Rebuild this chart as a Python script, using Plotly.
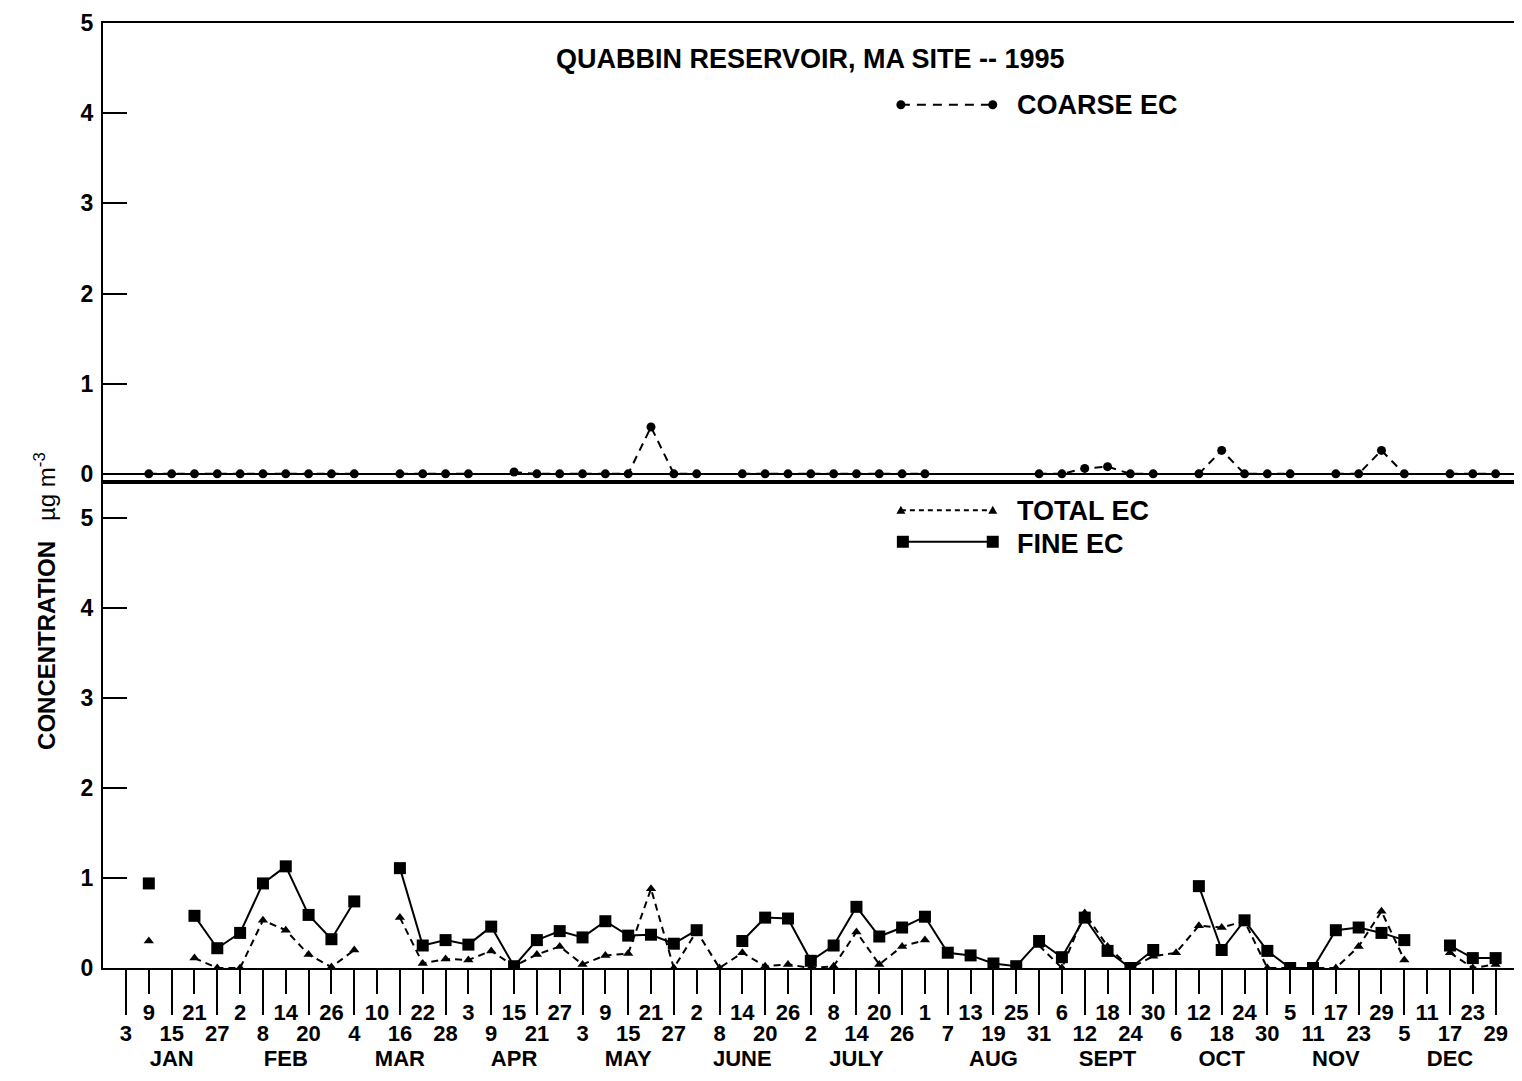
import plotly.graph_objects as go
from datetime import datetime, timedelta

# ---------------- data ----------------
sample_dates = [
    "1995-01-03", "1995-01-09", "1995-01-15", "1995-01-21", "1995-01-27",
    "1995-02-02", "1995-02-08", "1995-02-14", "1995-02-20", "1995-02-26",
    "1995-03-04", "1995-03-10", "1995-03-16", "1995-03-22", "1995-03-28",
    "1995-04-03", "1995-04-09", "1995-04-15", "1995-04-21", "1995-04-27",
    "1995-05-03", "1995-05-09", "1995-05-15", "1995-05-21", "1995-05-27",
    "1995-06-02", "1995-06-08", "1995-06-14", "1995-06-20", "1995-06-26",
    "1995-07-02", "1995-07-08", "1995-07-14", "1995-07-20", "1995-07-26",
    "1995-08-01", "1995-08-07", "1995-08-13", "1995-08-19", "1995-08-25",
    "1995-08-31", "1995-09-06", "1995-09-12", "1995-09-18", "1995-09-24",
    "1995-09-30", "1995-10-06", "1995-10-12", "1995-10-18", "1995-10-24",
    "1995-10-30", "1995-11-05", "1995-11-11", "1995-11-17", "1995-11-23",
    "1995-11-29", "1995-12-05", "1995-12-11", "1995-12-17", "1995-12-23",
    "1995-12-29",
]
day_labels = [
    "3", "9", "15", "21", "27", "2", "8", "14", "20", "26",
    "4", "10", "16", "22", "28", "3", "9", "15", "21", "27",
    "3", "9", "15", "21", "27", "2", "8", "14", "20", "26",
    "2", "8", "14", "20", "26", "1", "7", "13", "19", "25",
    "31", "6", "12", "18", "24", "30", "6", "12", "18", "24",
    "30", "5", "11", "17", "23", "29", "5", "11", "17", "23",
    "29",
]
coarse_ec = [
    None, 0, 0, 0, 0, 0, 0, 0, 0, 0,
    0, None, 0, 0, 0, 0, None, 0.02, 0, 0,
    0, 0, 0, 0.52, 0, 0, None, 0, 0, 0,
    0, 0, 0, 0, 0, 0, None, None, None, None,
    0, 0, 0.06, 0.08, 0, 0, None, 0, 0.26, 0,
    0, 0, None, 0, 0, 0.26, 0, None, 0, 0,
    0,
]
total_ec = [
    None, 0.30, None, 0.11, 0.0, 0.0, 0.53, 0.42, 0.15, 0.01,
    0.20, None, 0.56, 0.05, 0.10, 0.09, 0.19, 0.02, 0.15, 0.24,
    0.04, 0.14, 0.16, 0.88, 0.0, 0.41, 0.0, 0.17, 0.02, 0.04,
    0.0, 0.02, 0.40, 0.04, 0.24, 0.31, None, None, None, None,
    0.25, 0.0, 0.61, 0.24, 0.0, 0.13, 0.17, 0.47, 0.45, 0.52,
    0.0, 0.0, 0.0, 0.0, 0.24, 0.63, 0.09, None, 0.17, 0.0,
    0.04,
]
fine_ec = [
    None, 0.94, None, 0.58, 0.22, 0.39, 0.94, 1.13, 0.59, 0.32,
    0.74, None, 1.11, 0.25, 0.31, 0.26, 0.46, 0.02, 0.31, 0.41,
    0.34, 0.52, 0.36, 0.37, 0.27, 0.42, None, 0.30, 0.56, 0.55,
    0.08, 0.25, 0.68, 0.35, 0.45, 0.57, 0.17, 0.14, 0.05, 0.02,
    0.30, 0.12, 0.56, 0.19, 0.0, 0.20, None, 0.91, 0.20, 0.53,
    0.19, 0.0, 0.0, 0.42, 0.45, 0.39, 0.31, None, 0.25, 0.11,
    0.11,
]
month_names = ["JAN", "FEB", "MAR", "APR", "MAY", "JUNE",
               "JULY", "AUG", "SEPT", "OCT", "NOV", "DEC"]
month_label_dates = ["1995-01-15", "1995-02-14", "1995-03-16", "1995-04-15",
                     "1995-05-15", "1995-06-14", "1995-07-14", "1995-08-19",
                     "1995-09-18", "1995-10-18", "1995-11-17", "1995-12-17"]
y_ticks = [0, 1, 2, 3, 4, 5]

# ---------------- layout geometry ----------------
# page body has an 8px margin, so the figure is offset by 8px on screen
OFF = 8
W, H = 1514, 1065
PLOT_L, PLOT_R, PLOT_T, PLOT_B = 103, 1520, 18, 978   # screen pixels
ML, MT = PLOT_L - OFF, PLOT_T - OFF
MR = W - (PLOT_R - OFF)
MB = H - (PLOT_B - OFF)
PW, PH = PLOT_R - PLOT_L, PLOT_B - PLOT_T
def px_x(px):
    return (px - PLOT_L) / PW
def px_y(py):
    return (PLOT_B - py) / PH

sep = px_y(484)
t0 = datetime(1995, 1, 3)
x_lo = (t0 + timedelta(days=-6.04)).strftime("%Y-%m-%d %H:%M")
x_hi = (t0 + timedelta(days=365.88)).strftime("%Y-%m-%d %H:%M")

FONT = "Liberation Sans, Arial, Helvetica, sans-serif"
tickfont = dict(family=FONT, size=22, color="black", weight="bold")
ytickfont = dict(family=FONT, size=23, color="black", weight="bold")

odd_vals = sample_dates[1::2]
odd_text = day_labels[1::2]
even_vals = sample_dates[0::2]
even_text = day_labels[0::2]

fig = go.Figure()
fig.add_trace(go.Scatter(
    x=sample_dates, y=coarse_ec, xaxis="x2", yaxis="y2", mode="lines+markers",
    line=dict(color="black", width=2, dash="8px,6px"),
    marker=dict(symbol="circle", size=9, color="black"),
    connectgaps=False, showlegend=False, name="COARSE EC"))
fig.add_trace(go.Scatter(
    x=sample_dates, y=total_ec, xaxis="x", yaxis="y", mode="lines+markers",
    line=dict(color="black", width=2, dash="7px,5px"),
    marker=dict(symbol="triangle-up", size=9, color="black"),
    connectgaps=False, showlegend=False, name="TOTAL EC"))
fig.add_trace(go.Scatter(
    x=sample_dates, y=fine_ec, xaxis="x", yaxis="y", mode="lines+markers",
    line=dict(color="black", width=2),
    marker=dict(symbol="square", size=12, color="black"),
    connectgaps=False, showlegend=False, name="FINE EC"))
# invisible carriers so that the overlay label axes get drawn
for ax in ("x3", "x4"):
    fig.add_trace(go.Scatter(x=[sample_dates[0]], y=[None], xaxis=ax, yaxis="y",
                             mode="markers", showlegend=False, hoverinfo="skip"))

axis_common = dict(showgrid=False, zeroline=False, linecolor="black", linewidth=2,
                   tickcolor="black")

fig.update_layout(
    width=W, height=H,
    margin=dict(l=ML, r=MR, t=MT, b=MB, pad=0),
    paper_bgcolor="white", plot_bgcolor="white",
    showlegend=False,
    xaxis=dict(type="date", range=[x_lo, x_hi], domain=[0, 1], anchor="y",
               tickmode="array", tickvals=odd_vals, ticktext=odd_text,
               ticks="outside", ticklen=24, tickwidth=2, tickangle=0,
               showline=True, mirror=True, tickfont=tickfont, **axis_common),
    xaxis3=dict(type="date", range=[x_lo, x_hi], overlaying="x", anchor="y", side="bottom",
                tickmode="array", tickvals=even_vals, ticktext=even_text,
                ticks="outside", ticklen=46, tickwidth=2, tickangle=0,
                showline=False, tickfont=tickfont, **axis_common),
    xaxis4=dict(type="date", range=[x_lo, x_hi], overlaying="x", anchor="y", side="bottom",
                tickmode="array", tickvals=month_label_dates, ticktext=month_names,
                ticks="", ticklabelstandoff=75, tickangle=0,
                showline=False, tickfont=tickfont, **axis_common),
    xaxis2=dict(type="date", range=[x_lo, x_hi], domain=[0, 1], anchor="y2",
                showticklabels=False, ticks="", showline=True, mirror=True, **axis_common),
    yaxis=dict(domain=[0, sep], range=[0, 5.405], anchor="x",
               tickmode="array", tickvals=y_ticks, ticks="inside", ticklen=24, tickwidth=1.5,
               showline=True, mirror=True, tickfont=ytickfont, ticklabelstandoff=3,
               ticklabeloverflow="allow", **axis_common),
    yaxis2=dict(domain=[sep, 1], range=[-0.0873, 5], anchor="x2",
                tickmode="array", tickvals=y_ticks, ticks="inside", ticklen=24, tickwidth=1.5,
                showline=True, mirror=True, tickfont=ytickfont, ticklabelstandoff=3,
                ticklabeloverflow="allow",
                showgrid=False, zeroline=True, zerolinecolor="black", zerolinewidth=2,
                linecolor="black", linewidth=2, tickcolor="black"),
)

title_font = dict(family=FONT, size=27, color="black", weight="bold")
annotations = [
    dict(text="QUABBIN RESERVOIR, MA SITE -- 1995", xref="paper", yref="paper",
         x=px_x(812), y=px_y(55), xanchor="center", yanchor="middle",
         showarrow=False, font=title_font),
    dict(text="COARSE EC", xref="paper", yref="paper", x=px_x(1016), y=px_y(101),
         xanchor="left", yanchor="middle", showarrow=False, font=title_font),
    dict(text="TOTAL EC", xref="paper", yref="paper", x=px_x(1016), y=px_y(514),
         xanchor="left", yanchor="middle", showarrow=False, font=title_font),
    dict(text="FINE EC", xref="paper", yref="paper", x=px_x(1016), y=px_y(547),
         xanchor="left", yanchor="middle", showarrow=False, font=title_font),
    dict(text="<b>CONCENTRATION</b> &nbsp; µg m<sup>-3</sup>", xref="paper", yref="paper",
         x=px_x(45), y=px_y(605), xanchor="center", yanchor="middle", textangle=-90,
         showarrow=False, font=dict(family=FONT, size=24, color="black")),
]

# legend glyphs
shapes = []
def leg_line(y, dash):
    shapes.append(dict(type="line", xref="paper", yref="paper",
                       x0=px_x(902), x1=px_x(994), y0=px_y(y), y1=px_y(y),
                       line=dict(color="black", width=2, dash=dash)))
def leg_marker(xp, y, kind, r):
    base = dict(xref="paper", yref="paper", xsizemode="pixel", ysizemode="pixel",
                xanchor=px_x(xp), yanchor=px_y(y), fillcolor="black",
                line=dict(color="black", width=0))
    if kind == "circle":
        base.update(type="circle", x0=-r, x1=r, y0=-r, y1=r)
    elif kind == "square":
        base.update(type="rect", x0=-r, x1=r, y0=-r, y1=r)
    else:
        base.update(type="path", path=f"M {-r},{-r*0.8} L {r},{-r*0.8} L 0,{r} Z")
    shapes.append(base)

leg_line(101, "9px,7px")
leg_marker(902, 101, "circle", 4.5)
leg_marker(994, 101, "circle", 4.5)
leg_line(513, "5px,4px")
leg_marker(902, 513, "tri", 4.5)
leg_marker(994, 513, "tri", 4.5)
leg_line(545, "solid")
leg_marker(904, 545, "square", 6)
leg_marker(994, 545, "square", 6)

fig.update_layout(annotations=annotations, shapes=shapes)
fig.write_html("out.html")
